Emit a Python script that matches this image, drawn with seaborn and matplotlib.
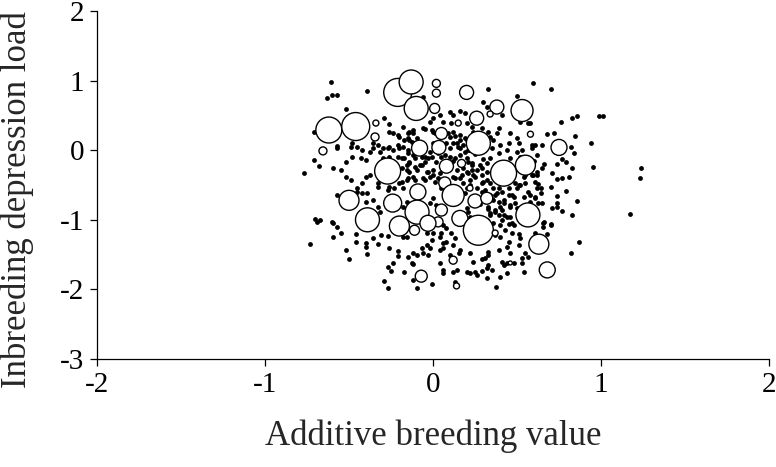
import matplotlib
matplotlib.use("Agg")
import matplotlib.pyplot as plt
import pandas as pd
import seaborn as sns

# ---- small black dots: (additive breeding value, inbreeding depression load)
dot_x = [
    -0.61, -0.39, -0.63, -0.60, -0.57, -0.52, -0.71, -0.29, -0.26, -0.18, -0.26, -0.24, -0.21, -0.20,
    -0.15, -0.15, -0.125, -0.36, -0.45, -0.48, -0.57, -0.33, -0.30, -0.26,
    0.33, 0.595, 0.50, 0.30, -0.06, 0.10, 0.12, 0.16, 0.04, 0.00, -0.02, 0.06, 0.19, 0.11, 0.20, 0.32,
    0.41, 0.52, 0.565, 0.39, 0.33, 0.29, 0.46, 0.50, 0.51, 0.45, 0.40, 0.36, -0.12, -0.095, -0.05, 0.00,
    0.12, 0.10, 0.12, 0.16, 0.18, 0.15, 0.08, 0.38, 0.34, 0.59, -0.06,
    0.70, 0.76, 0.83, 0.86, 0.99, 1.01, 0.68, 0.72, 0.845, 0.94, 0.82, 0.61, 0.65, 0.58,
    -0.77, -0.71, -0.68, -0.595, -0.55, -0.52, -0.48, -0.43, -0.40, -0.42, -0.375, -0.36, -0.49, -0.57,
    -0.52, -0.49, -0.40, -0.375, -0.42, -0.33, -0.33, -0.30, -0.33, -0.45, -0.45, -0.42, -0.39, -0.57,
    -0.36, -0.40, -0.33, -0.315, -0.70, -0.67, -0.60, -0.18, -0.20, -0.155, -0.14, -0.155, -0.185, -0.15,
    -0.24, -0.27, -0.20, -0.155, -0.18, -0.125, -0.27, -0.26, -0.23, -0.315, -0.26,
    -0.12, -0.02, 0.10, 0.16, 0.21, 0.35, 0.39, 0.44, 0.50, 0.46, 0.52, 0.34, 0.32, 0.29, 0.26, 0.23,
    0.20, 0.25, 0.29, 0.32, 0.14, 0.12, 0.16, 0.18, 0.02, 0.00, -0.02, -0.035, -0.065, -0.095, -0.12,
    -0.06, 0.01, -0.14, -0.11, 0.04, 0.00, -0.02, 0.02, -0.05, 0.26, 0.29, 0.36, 0.40, 0.37, 0.42, 0.46,
    0.50, 0.52, 0.55, 0.45, 0.48, 0.40, 0.37, 0.34, 0.42, 0.46, 0.50, 0.41, 0.47, 0.58, 0.58, 0.06, 0.20,
    0.21, 0.22, 0.32, 0.59, 0.53,
    0.05, 0.08, 0.12, 0.25, 0.30, 0.18, 0.07, 0.22, 0.30, 0.35, 0.28, 0.15, 0.05, -0.08, -0.10, 0.10,
    0.24, 0.40, 0.45, 0.33, -0.05, 0.00, 0.20, 0.25, 0.30, -0.10, 0.55, 0.62, 0.60,
    0.84, 0.62, 0.77, 0.79, 0.74, 0.66, 0.65, 0.83, 0.95, 1.24, 1.23, 0.71, 0.62, 0.595, 0.74, 0.77,
    0.81, 0.61, 0.625, 0.62, 0.64, 0.70, 0.79, 0.61, 0.74, 0.86, 0.74, 0.74, 0.71, 0.77, 0.83, 1.17,
    0.625, 0.66, 0.70,
    -0.69, -0.595, -0.57, -0.55, -0.595, -0.46, -0.46, -0.40, -0.40, -0.33, -0.39, -0.36, -0.31, -0.27,
    -0.73, -0.52, -0.50, -0.26, -0.21, -0.21, -0.15, -0.12, -0.24, -0.27, -0.25, -0.17, -0.12, -0.12,
    -0.29, -0.27, -0.18, -0.155,
    -0.035, 0.00, 0.05, 0.08, 0.04, 0.11, 0.13, 0.08, -0.005, -0.035, -0.065, -0.02, -0.06, -0.095,
    -0.03, 0.06, 0.06, 0.12, 0.16, 0.155, 0.04, 0.10, 0.36, 0.40, 0.45, 0.48, 0.43, 0.47, 0.40, 0.37,
    0.51, 0.52, 0.51, 0.45, 0.44, 0.39, 0.33, 0.33, 0.46, 0.55, 0.565, 0.53, 0.22, 0.24, 0.29, 0.31,
    0.33, 0.32, 0.41, 0.42, 0.44, 0.48, 0.53, 0.54, -0.125, 0.04, 0.06, 0.06, 0.12, 0.14, 0.20, 0.22,
    0.25, 0.26, 0.29, 0.35, 0.32, 0.40, 0.44, -0.095, -0.005, 0.13, 0.375,
    0.655, 0.655, 0.70, 0.61, 0.68, 0.87, 0.82,
    -0.14, -0.12, -0.06, -0.005, 0.01, -0.17, -0.14, 0.09, 0.13, 0.16, 0.19, 0.23, 0.14, -0.21, -0.18,
    -0.15, -0.11, -0.065, -0.03, -0.05, -0.08, -0.11, -0.14, -0.17, -0.21, -0.185, -0.155, -0.005, 0.03,
    0.07, 0.10, 0.13, 0.17, 0.20, 0.23, 0.16, 0.19, 0.22, -0.03, 0.00, 0.03, 0.07, 0.13, 0.17, 0.21,
    0.24, -0.05, -0.11, -0.15, -0.185, 0.24, 0.23,
    0.21, 0.28, 0.23, 0.22, 0.29, 0.32, 0.34, 0.39, 0.38, 0.41, 0.34, 0.31, 0.20, 0.19, 0.36, 0.39,
    0.42, 0.47, 0.49, 0.46, 0.41, 0.37, 0.33, 0.34, 0.39, 0.44, 0.49, 0.51, 0.54, 0.55, 0.59, 0.64,
    0.61, 0.54, 0.65, 0.58, 0.565,
]
dot_y = [
    0.98, 0.85, 0.75, 0.79, 0.80, 0.59, 0.26, 0.46, 0.37, 0.34, 0.26, 0.24, 0.22, 0.19,
    0.24, 0.17, 0.115, 0.11, 0.04, 0.11, 0.06, 0.07, 0.03, 0.04,
    0.88, 0.96, 0.775, 0.69, 0.76, 0.545, 0.50, 0.57, 0.50, 0.46, 0.40, 0.40, 0.53, 0.39, 0.39, 0.62,
    0.50, 0.40, 0.39, 0.32, 0.26, 0.32, 0.24, 0.17, 0.11, 0.11, 0.07, 0.14, 0.24, 0.17, 0.30, 0.26,
    0.26, 0.19, 0.11, 0.14, 0.07, 0.04, 0.10, 0.24, 0.19, 0.07, 0.04,
    0.875, 0.40, 0.46, 0.49, 0.49, 0.49, 0.23, 0.24, 0.20, 0.10, 0.04, 0.07, 0.07, 0.39,
    -0.33, -0.14, -0.23, -0.26, -0.29, -0.17, -0.10, -0.115, -0.14, 0.00, -0.03, 0.03, 0.04, 0.03,
    -0.39, -0.43, -0.39, -0.36, -0.47, -0.47, -0.53, -0.115, -0.24, -0.545, -0.60, -0.62, -0.62, -0.65,
    -0.72, -0.75, -0.82, -0.89, -0.99, -1.00, -1.03, -0.545, -0.47, -0.43, -0.32, -0.215, -0.115, -0.04,
    0.00, 0.03, 0.03, -0.75, -0.82, -0.89, -0.57, -0.53, -0.545, -0.03, -0.10,
    -0.07, -0.03, 0.03, -0.07, 0.00, 0.03, -0.04, 0.00, -0.03, -0.115, -0.10, -0.115, -0.19, -0.26, -0.29, -0.215,
    -0.32, -0.39, -0.36, -0.32, -0.29, -0.39, -0.40, -0.47, -0.17, -0.29, -0.39, -0.32, -0.215, -0.29, -0.39,
    -0.40, -0.46, -0.19, -0.115, -0.33, -0.69, -0.76, -0.79, -0.82, -0.545, -0.60, -0.545, -0.47, -0.65, -0.72, -0.79,
    -0.545, -0.50, -0.47, -0.65, -0.67, -0.82, -0.89, -0.93, -0.93, -0.96, -0.83, -1.00, -1.05, -0.65, -0.75, -1.08, -0.83,
    -0.89, -0.96, -1.00, 0.03, 0.00,
    -0.10, -0.20, -0.15, -0.05, -0.12, -0.25, -0.45, -0.50, -0.45, -0.70, -0.78, -0.62, -0.55, -0.55, -0.65, -0.75,
    -0.68, -0.40, -0.55, -0.85, -0.10, 0.10, 0.15, 0.20, 0.05, 0.05, -0.25, -0.35, -0.15,
    -0.04, -0.07, -0.13, -0.17, -0.20, -0.20, -0.26, -0.26, -0.24, -0.26, -0.40, -0.33, -0.32, -0.36, -0.42, -0.40,
    -0.39, -0.46, -0.49, -0.545, -0.545, -0.53, -0.59, -0.69, -0.66, -0.73, -0.76, -0.82, -0.83, -0.875, -0.93, -0.92,
    -0.76, -1.03, -1.06,
    -1.03, -1.05, -1.10, -1.19, -1.25, -1.205, -1.32, -1.33, -1.39, -1.35, -1.49, -1.26, -1.22, -1.23,
    -1.35, -1.43, -1.56, -1.41, -1.45, -1.52, -1.535, -1.48, -1.62, -1.68, -1.74, -1.75, -1.64, -1.87,
    -1.88, -1.98, -1.25, -1.25,
    -1.19, -1.19, -1.19, -1.12, -1.25, -1.19, -1.26, -1.32, -1.29, -1.36, -1.41, -1.41, -1.48, -1.51,
    -1.51, -1.33, -1.41, -1.36, -1.435, -1.48, -1.435, -1.51, -1.05, -1.08, -1.06, -1.08, -1.15, -1.19, -1.25, -1.22,
    -1.205, -1.26, -1.36, -1.32, -1.39, -1.435, -1.46, -1.51, -1.48, -1.48, -1.535, -1.55, -1.48, -1.61, -1.56, -1.55,
    -1.65, -1.69, -1.61, -1.65, -1.62, -1.62, -1.62, -1.75, -1.62, -1.62, -1.72, -1.765, -1.75, -1.72, -1.75, -1.765,
    -1.75, -1.79, -1.74, -1.72, -1.84, -1.82, -1.765, -1.98, -1.92, -1.89, -1.965,
    -1.05, -1.10, -1.08, -1.19, -1.205, -1.32, -1.48,
    0.26, 0.29, 0.32, 0.29, 0.24, 0.14, 0.14, 0.24, 0.20, 0.22, 0.17, 0.11, 0.10, 0.07, 0.04,
    0.00, -0.03, -0.10, -0.115, -0.17, -0.215, -0.24, -0.17, -0.115, -0.10, -0.26, -0.29, -0.10, -0.04,
    -0.07, -0.10, -0.115, -0.17, -0.115, -0.19, 0.03, -0.03, 0.00, -0.32, -0.36, -0.40, -0.43, -0.40, -0.36, -0.33,
    -0.36, -0.43, -0.43, -0.40, -0.46, 0.26, 0.33,
    -0.17, -0.215, -0.29, -0.43, -0.47, -0.43, -0.47, -0.545, -0.62, -0.60, -0.65, -0.57, -0.545, -0.62, -0.72, -0.75,
    -0.76, -0.65, -0.76, -0.82, -0.86, -0.86, -0.82, -0.90, -0.93, -0.96, -0.47, -0.50, -0.39, -0.36, -0.36, -0.62,
    -0.67, -0.67, -0.76, -0.79, -0.60,
]

# ---- open circles (individuals with a weighted contribution)
circ_x = [
    -0.21, -0.13, -0.10, 0.02, 0.02, 0.01, 0.20, 0.38, 0.53, 0.26, 0.15, 0.34, -0.62, -0.46, -0.34,
    -0.345, -0.655, -0.27, -0.50, -0.24, -0.39, -0.20, -0.08, 0.035, 0.27, 0.08, 0.17, 0.42, 0.55,
    0.07, 0.12, -0.09, 0.25, 0.32, 0.22, -0.095, 0.05, 0.03, 0.16, 0.27, 0.565, -0.11, -0.03, 0.37,
    0.63, 0.12, -0.07, 0.14, 0.46, 0.68, 0.75, 0.58, 0.05,
]
circ_y = [
    0.83, 0.98, 0.60, 0.96, 0.82, 0.60, 0.83, 0.62, 0.57, 0.46, 0.39, 0.52, 0.29, 0.34, 0.39,
    0.19, -0.01, -0.30, -0.72, -0.76, -1.00, -1.09, 0.03, 0.04, 0.10, -0.23, -0.19, -0.33, -0.215,
    -0.47, -0.65, -0.60, -0.73, -0.69, -0.545, -0.89, -0.86, -1.03, -0.98, -1.15, -0.93, -1.15, -1.05, -1.19,
    -1.35, -1.58, -1.81, -1.95, -1.62, -1.72, 0.04, 0.23, 0.24,
]
circ_w = [
    196, 144, 144, 16, 16, 25, 49, 49, 121, 49, 9, 9, 169, 196, 9,
    16, 16, 169, 100, 81, 144, 100, 64, 49, 144, 49, 16, 169, 100,
    36, 121, 64, 49, 36, 9, 144, 36, 25, 64, 225, 144, 25, 64, 9,
    100, 16, 36, 9, 4, 64, 64, 9, 36,
]

x_ticks = [-2, -1, 0, 1, 2]
y_ticks = [-3, -2, -1, 0, 1, 2]

sns.set_style("ticks")
plt.rcParams['font.family'] = ['Liberation Serif', 'DejaVu Serif']
plt.rcParams['axes.unicode_minus'] = False

fig = plt.figure(figsize=(7.76, 4.67), dpi=100)
ax = fig.add_axes([97 / 776, 1 - 359 / 467, 672 / 776, 348 / 467])

dots = pd.DataFrame({"x": dot_x, "y": dot_y})
sns.scatterplot(data=dots, x="x", y="y", color="black", s=12, linewidth=0,
                ax=ax, zorder=2)

circ = pd.DataFrame({"x": circ_x, "y": circ_y, "w": circ_w})
k = 2.07
sns.scatterplot(data=circ, x="x", y="y", size="w",
                sizes=(k * min(circ_w), k * max(circ_w)),
                color="white", edgecolor="black", linewidth=1.0,
                legend=False, ax=ax, zorder=3)

ax.set_xlim(-2, 2)
ax.set_ylim(-3, 2)
ax.set_xticks(x_ticks)
ax.set_yticks(y_ticks)
ax.set_xticklabels([str(t) for t in x_ticks])
ax.set_yticklabels([str(t) for t in y_ticks])
ax.tick_params(direction="out", length=5, width=0.9, labelsize=21, colors="black", pad=4)
sns.despine(ax=ax)
for sp in ["left", "bottom"]:
    ax.spines[sp].set_linewidth(0.9)
    ax.spines[sp].set_color("black")

ax.set_xlabel("Additive breeding value", fontsize=25)
ax.set_ylabel("Inbreeding depression load", fontsize=25)
ax.xaxis.set_label_coords(0.5, -0.175)
ax.yaxis.set_label_coords(-0.094, 0.457)

fig.savefig("out.png", dpi=100)
